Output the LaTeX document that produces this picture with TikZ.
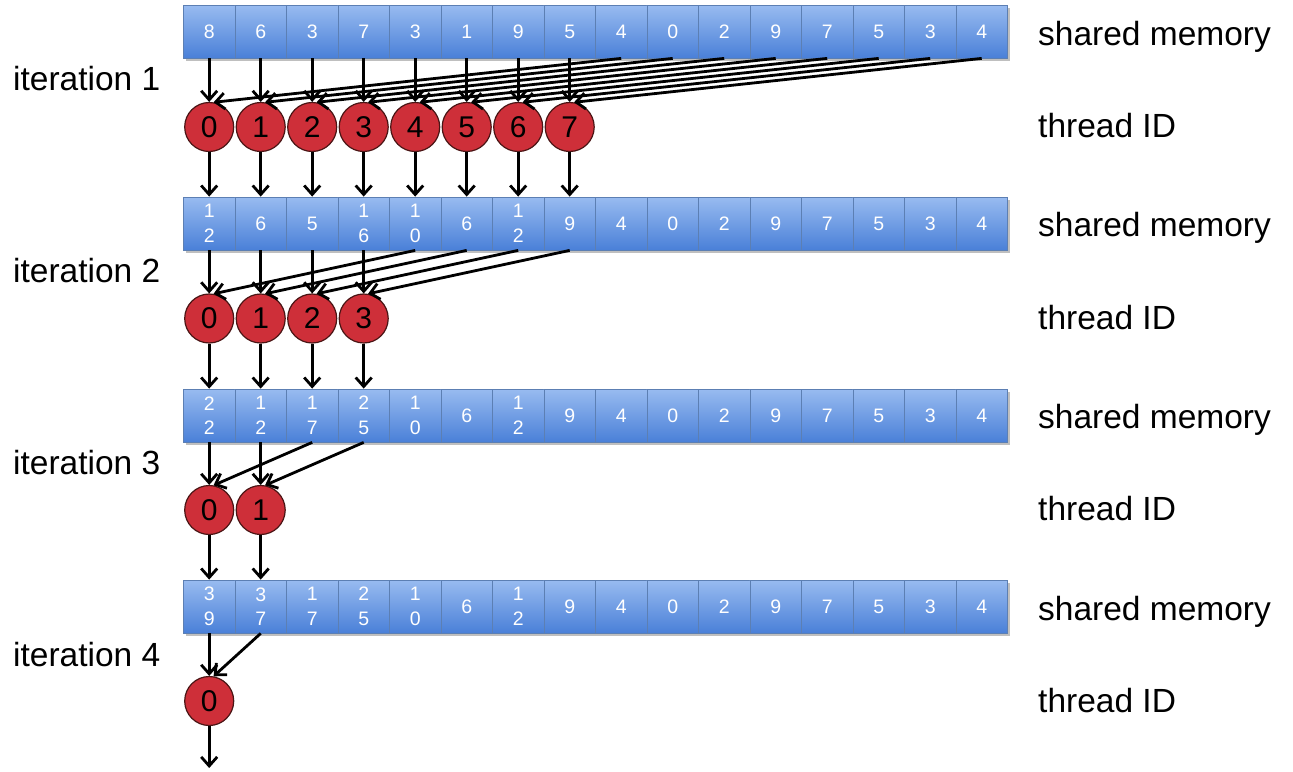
\documentclass[tikz,border=0pt]{standalone}
\usepackage{fontspec}
\setmainfont{Liberation Sans}
\usetikzlibrary{arrows.meta,calc}
\definecolor{celltop}{HTML}{98BBF0}
\definecolor{cellbot}{HTML}{4A80D8}
\definecolor{cellline}{HTML}{5C7FB3}
\definecolor{thr}{HTML}{CE2F39}
\definecolor{thrline}{HTML}{4A1515}
\tikzset{
  cell/.style={draw=cellline, line width=0.8pt, top color=celltop, bottom color=cellbot,
    minimum width=51.5pt, minimum height=53pt, inner sep=0pt, text=white,
    font=\fontsize{19.5}{24.5}\selectfont, align=center},
  thread/.style={circle, draw=thrline, line width=1.2pt, fill=thr, minimum size=49pt,
    inner sep=0pt, font=\fontsize{30}{30}\selectfont},
  arr/.style={-{Straight Barb[length=9pt,width=16pt,line width=2.8pt]}, line width=2.8pt},
  lbl/.style={font=\fontsize{33.5}{40}\selectfont, anchor=base west, inner sep=0pt},
  shadowbox/.style={fill=black!25},
}
\newcommand\memrow[3]{%
  \fill[shadowbox] (185.5,#2+3) rectangle (1009.5,#2+55.5);
  \foreach \v [count=\i from 0] in {#3} {
    \node[cell] (m#1c\i) at (209.2+51.5*\i, #2+26.5) {\v};
  }
}
\begin{document}
\begin{tikzpicture}[x=1pt,y=-1pt]
\useasboundingbox (0,0) rectangle (1293,771);

% shared memory rows
\memrow{1}{5}{8,6,3,7,3,1,9,5,4,0,2,9,7,5,3,4}
\memrow{2}{197}{{1\\2},6,5,{1\\6},{1\\0},6,{1\\2},9,4,0,2,9,7,5,3,4}
\memrow{3}{389}{{2\\2},{1\\2},{1\\7},{2\\5},{1\\0},6,{1\\2},9,4,0,2,9,7,5,3,4}
\memrow{4}{580}{{3\\9},{3\\7},{1\\7},{2\\5},{1\\0},6,{1\\2},9,4,0,2,9,7,5,3,4}

% threads
\foreach \i in {0,...,7} \node[thread] (t1c\i) at (209.2+51.5*\i,127) {\i};
\foreach \i in {0,...,3} \node[thread] (t2c\i) at (209.2+51.5*\i,318.5) {\i};
\foreach \i in {0,1} \node[thread] (t3c\i) at (209.2+51.5*\i,510) {\i};
\node[thread] (t4c0) at (209.2,701) {0};

% iteration 1
\foreach \i [evaluate=\i as \j using int(\i+8)] in {0,...,7} {
  \draw[arr] (m1c\i.south) -- (t1c\i.north);
  \draw[arr] (m1c\j.south) -- (t1c\i.80);
  \draw[arr] (t1c\i.south) -- (m2c\i.north);
}
% iteration 2
\foreach \i [evaluate=\i as \j using int(\i+4)] in {0,...,3} {
  \draw[arr] (m2c\i.south) -- (t2c\i.north);
  \draw[arr] (m2c\j.south) -- (t2c\i.80);
  \draw[arr] (t2c\i.south) -- (m3c\i.north);
}
% iteration 3
\foreach \i [evaluate=\i as \j using int(\i+2)] in {0,1} {
  \draw[arr] (m3c\i.south) -- (t3c\i.north);
  \draw[arr] (m3c\j.south) -- (t3c\i.80);
  \draw[arr] (t3c\i.south) -- (m4c\i.north);
}
% iteration 4
\draw[arr] (m4c0.south) -- (t4c0.north);
\draw[arr] (m4c1.south) -- (t4c0.80);
\coordinate (end) at (209.2,768);
\draw[arr] (t4c0.south) -- (end);

% labels
\node[lbl] (it1) at (13,90) {iteration 1};
\node[lbl] (it2) at (13,282) {iteration 2};
\node[lbl] (it3) at (13,474) {iteration 3};
\node[lbl] (it4) at (13,666) {iteration 4};
\foreach \k/\y in {1/0,2/191.5,3/383,4/575} {
  \node[lbl] (sm\k) at (1038,45+\y) {shared memory};
  \node[lbl] (td\k) at (1038,137.5+\y) {thread ID};
}
\end{tikzpicture}
\end{document}
